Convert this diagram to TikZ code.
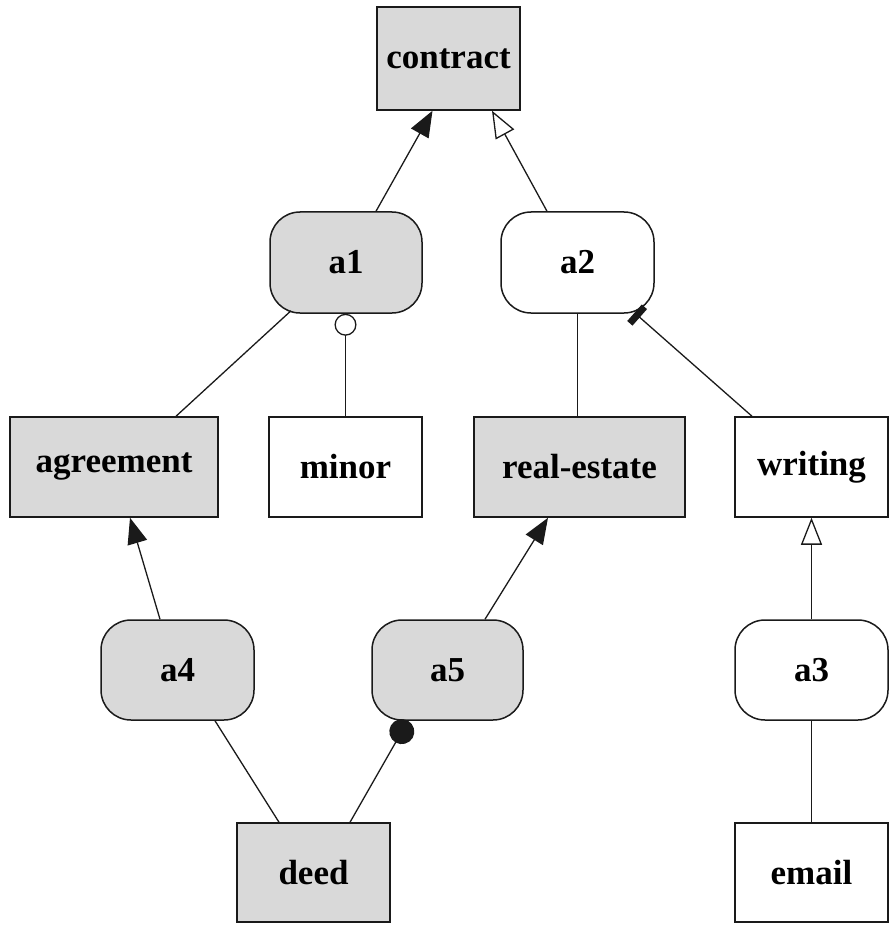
\documentclass[tikz,border=0pt]{standalone}
\usepackage{fontspec}
\setmainfont{Liberation Serif}
\usetikzlibrary{arrows.meta,calc}
\definecolor{boxgray}{HTML}{D9D9D9}
\definecolor{edgecol}{HTML}{1A1A1A}
\begin{document}
\begin{tikzpicture}[x=1pt,y=-1pt,
  every node/.style={font=\fontsize{35}{40}\selectfont\bfseries, draw=edgecol, line width=1.5pt, inner sep=0pt},
  rectbox/.style={rectangle, minimum width=153pt, minimum height=100pt},
  roundbox/.style={rectangle, rounded corners=30pt, minimum width=153pt, minimum height=100pt},
  grayfill/.style={fill=boxgray},
  whitefill/.style={fill=white},
  conn/.style={draw=edgecol, line width=1.3pt},
  solidarrow/.style={-{Triangle[length=26pt,width=20pt]}},
  openarrow/.style={-{Triangle[open,length=27pt,width=21pt,fill=white]}},
  opencirc/.style={-{Circle[open,length=22pt,fill=white]}},
  dotcirc/.style={-{Circle[length=25pt]}},
  tick/.style={-{Bar[width=22pt,line width=7pt]}}
]
\useasboundingbox (0,0) rectangle (892,925);

\node[rectbox,grayfill,minimum width=143pt,minimum height=103pt] (contract) at (448.5,58.5) {contract};
\node[roundbox,grayfill,minimum width=152pt,minimum height=101pt] (a1) at (346,262.5) {a1};
\node[roundbox,whitefill,minimum height=101pt] (a2) at (577.5,262.5) {a2};
\node[rectbox,grayfill,minimum width=208pt] (agreement) at (114,467) {agreement};
\node[rectbox,whitefill] (minor) at (345.5,467) {minor};
\node[rectbox,grayfill,minimum width=211pt] (realestate) at (579.5,467) {real-estate};
\node[rectbox,whitefill] (writing) at (811.5,467) {writing};
\node[roundbox,grayfill] (a4) at (177.5,670) {a4};
\node[roundbox,grayfill,minimum width=151pt] (a5) at (447.5,670) {a5};
\node[roundbox,whitefill] (a3) at (811.5,670) {a3};
\node[rectbox,grayfill,minimum height=99pt] (deed) at (313.5,872.5) {deed};
\node[rectbox,whitefill,minimum height=99pt] (email) at (811.5,872.5) {email};

\draw[conn,solidarrow] ($(a1.north)+(30,0)$) -- ($(contract.south)+(-16,0)$);
\draw[conn,openarrow] ($(a2.north)+(-30.5,0)$) -- ($(contract.south)+(43.5,0)$);
\draw[conn] ($(agreement.north)+(62,0)$) -- ($(a1.south)+(-55,-3)$);
\draw[conn,opencirc] (minor.north) -- (minor.north |- a1.south);
\draw[conn] (a2.south) -- (a2.south |- realestate.north);
\draw[conn,tick] ($(writing.north)+(-59.5,0)$) -- ($(a2.south)+(57,-1)$);
\draw[conn,solidarrow] ($(a4.north)+(-17.5,0)$) -- ($(agreement.south)+(16,0)$);
\draw[conn,solidarrow] ($(a5.north)+(37.5,0)$) -- ($(realestate.south)+(-31.5,0)$);
\draw[conn,openarrow] (a3.north) -- (a3.north |- writing.south);
\draw[conn] ($(deed.north)+(-34.5,0)$) -- ($(a4.south)+(37.5,0)$);
\draw[conn,dotcirc] ($(deed.north)+(36.5,0)$) -- ($(a5.south)+(-39.5,0)$);
\draw[conn] (a3.south) -- (a3.south |- email.north);
\end{tikzpicture}
\end{document}
